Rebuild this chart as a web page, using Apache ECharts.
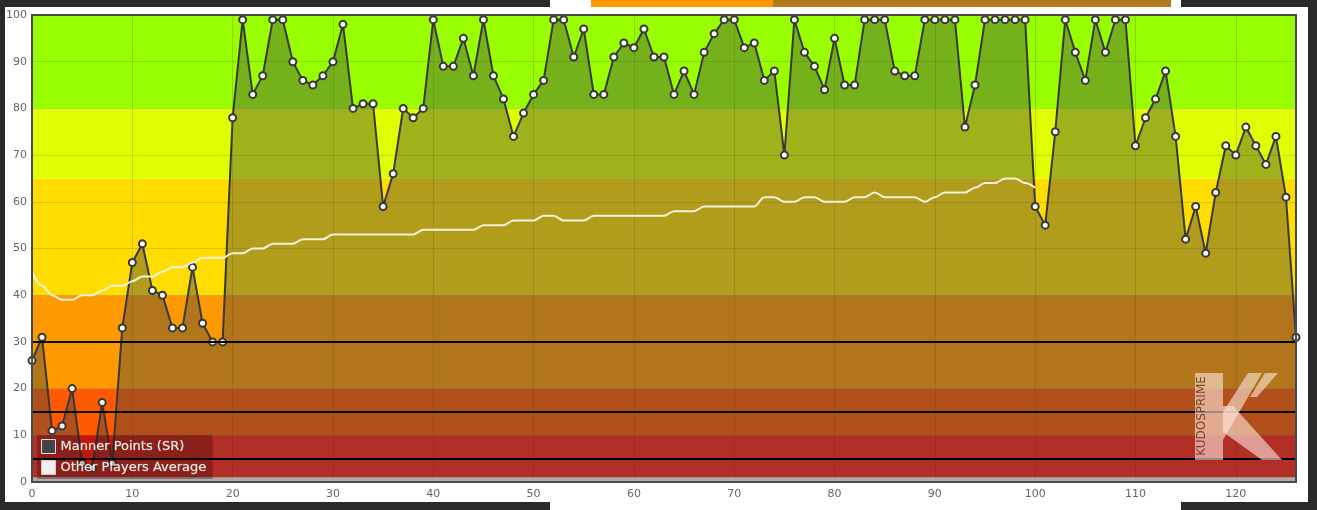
<!DOCTYPE html>
<html>
<head>
<meta charset="utf-8">
<script src="https://cdn.jsdelivr.net/npm/echarts@6/dist/echarts.min.js"></script>
<style>
html,body{margin:0;padding:0;background:#2a2a2a;overflow:hidden;}
#wrap{position:relative;width:1317px;height:510px;background:#2a2a2a;}
.bg{position:absolute;}
#chart{position:absolute;left:0;top:0;width:1317px;height:510px;}
</style>
</head>
<body>
<div id="wrap">
  <div class="bg" style="left:5px;top:7px;width:1303px;height:495px;background:#fff;"></div>
  <div class="bg" style="left:550px;top:0;width:631px;height:510px;background:#fff;"></div>
  <div class="bg" style="left:591px;top:0;width:182px;height:7px;background:#ff9900;"></div>
  <div class="bg" style="left:773px;top:0;width:398px;height:7px;background:#b37a1d;"></div>
  <div id="chart"></div>
</div>
<script>
// ---- data ----
const seriesNames = ['Manner Points (SR)', 'Other Players Average'];

const mannerPoints = [
  26, 31, 11, 12, 20, 4, 3, 17, 4, 33,
  47, 51, 41, 40, 33, 33, 46, 34, 30, 30,
  78, 99, 83, 87, 99, 99, 90, 86, 85, 87,
  90, 98, 80, 81, 81, 59, 66, 80, 78, 80,
  99, 89, 89, 95, 87, 99, 87, 82, 74, 79,
  83, 86, 99, 99, 91, 97, 83, 83, 91, 94,
  93, 97, 91, 91, 83, 88, 83, 92, 96, 99,
  99, 93, 94, 86, 88, 70, 99, 92, 89, 84,
  95, 85, 85, 99, 99, 99, 88, 87, 87, 99,
  99, 99, 99, 76, 85, 99, 99, 99, 99, 99,
  59, 55, 75, 99, 92, 86, 99, 92, 99, 99,
  72, 78, 82, 88, 74, 52, 59, 49, 62, 72,
  70, 76, 72, 68, 74, 61, 31
];

const otherPlayersAverage = [
  45, 42, 40, 39, 39, 40, 40, 41, 42, 42,
  43, 44, 44, 45, 46, 46, 47, 48, 48, 48,
  49, 49, 50, 50, 51, 51, 51, 52, 52, 52,
  53, 53, 53, 53, 53, 53, 53, 53, 53, 54,
  54, 54, 54, 54, 54, 55, 55, 55, 56, 56,
  56, 57, 57, 56, 56, 56, 57, 57, 57, 57,
  57, 57, 57, 57, 58, 58, 58, 59, 59, 59,
  59, 59, 59, 61, 61, 60, 60, 61, 61, 60,
  60, 60, 61, 61, 62, 61, 61, 61, 61, 60,
  61, 62, 62, 62, 63, 64, 64, 65, 65, 64,
  63
];

const xMin = 0, xMax = 126, xStep = 10;
const yMin = 0, yMax = 100, yStep = 10;
const bandEdges = [0, 1, 10, 20, 40, 65, 80, 100];
const thresholdValues = [30, 15, 5];
const watermarkText = 'KUDOSPRIME';

// ---- styles ----
const bandColors = ['#f6f6f6', '#ff2214', '#ff5a00', '#ff9900', '#ffdd00', '#e0ff00', '#99ff00'];
const FONT = '"DejaVu Sans", Verdana, sans-serif';

const markAreaData = bandEdges.slice(0, -1).map((v, i) => [
  { yAxis: v, itemStyle: { color: bandColors[i] } },
  { yAxis: bandEdges[i + 1] }
]);

const chart = echarts.init(document.getElementById('chart'), null, { renderer: 'canvas' });

const wmFill = 'rgba(255,232,222,0.6)';
const option = {
  backgroundColor: 'transparent',
  animation: false,
  grid: {
    left: 32, right: 21, top: 15, bottom: 28,
    show: true, borderColor: '#4a4a4a', borderWidth: 2,
    backgroundColor: 'transparent', z: 6
  },
  xAxis: {
    type: 'value', min: xMin, max: xMax, interval: xStep, z: 2,
    axisLine: { show: false }, axisTick: { show: false },
    axisLabel: { color: '#666', fontSize: 11, fontFamily: FONT, margin: 7, showMaxLabel: false },
    splitLine: { show: true, lineStyle: { color: 'rgba(0,0,0,0.13)', width: 1 } }
  },
  yAxis: {
    type: 'value', min: yMin, max: yMax, interval: yStep, z: 2,
    axisLine: { show: false }, axisTick: { show: false },
    axisLabel: { color: '#666', fontSize: 11, fontFamily: FONT, margin: 5 },
    splitLine: { show: true, lineStyle: { color: 'rgba(0,0,0,0.13)', width: 1 } }
  },
  legend: {
    left: 37, top: 435, orient: 'vertical',
    itemWidth: 14, itemHeight: 14, itemGap: 6,
    padding: [4, 6, 4, 4],
    backgroundColor: 'rgba(50,0,0,0.3)',
    selectedMode: false, z: 10,
    textStyle: { color: '#f4eee8', fontSize: 13, fontFamily: FONT,
      textBorderColor: 'rgba(244,238,232,0.35)', textBorderWidth: 0.6 },
    data: [
      { name: seriesNames[0], icon: 'rect', itemStyle: { color: '#444', borderColor: '#e6dcd8', borderWidth: 1 } },
      { name: seriesNames[1], icon: 'rect', itemStyle: { color: '#f0eeee', borderColor: '#d8c8c4', borderWidth: 1 } }
    ]
  },
  series: [
    {
      name: '__bands', type: 'line', data: [], z: 1, silent: true,
      markArea: { silent: true, data: markAreaData },
      markLine: {
        silent: true, symbol: 'none', label: { show: false },
        lineStyle: { color: '#000', width: 2, type: 'solid' },
        data: thresholdValues.map(v => ({ yAxis: v }))
      }
    },
    {
      name: seriesNames[0], type: 'line', z: 3,
      data: mannerPoints.map((v, i) => [i, v]),
      showAllSymbol: true,
      symbol: 'circle', symbolSize: 7,
      lineStyle: { color: '#383838', width: 2 },
      itemStyle: { color: '#ffffff', borderColor: '#383838', borderWidth: 2 },
      areaStyle: { color: 'rgba(66,66,66,0.41)', opacity: 1 }
    },
    {
      name: seriesNames[1], type: 'line', z: 4,
      data: otherPlayersAverage.map((v, i) => [i, v]),
      symbol: 'none', smooth: 0.35, smoothMonotone: 'x',
      lineStyle: { color: '#f7f2de', width: 2 },
      itemStyle: { color: '#f7f2de' }
    }
  ],
  graphic: [
    { type: 'rect', z: 20, silent: true, shape: { x: 1195, y: 373, width: 28, height: 87 }, style: { fill: wmFill } },
    { type: 'polygon', z: 20, silent: true, shape: { points: [[1223, 440], [1223, 412], [1248, 373], [1262, 373]] }, style: { fill: wmFill } },
    { type: 'polygon', z: 20, silent: true, shape: { points: [[1223, 406], [1233, 406], [1282, 460], [1262, 460], [1223, 432]] }, style: { fill: wmFill } },
    { type: 'polygon', z: 20, silent: true, shape: { points: [[1265, 373], [1278, 373], [1257, 397], [1250, 397]] }, style: { fill: wmFill } },
    { type: 'text', z: 21, silent: true, x: 1202, y: 416, rotation: Math.PI / 2,
      style: { text: watermarkText, fill: 'rgba(115,45,25,0.85)', font: '12px ' + FONT, align: 'center', verticalAlign: 'middle' } }
  ]
};
chart.setOption(option);
</script>
</body>
</html>
